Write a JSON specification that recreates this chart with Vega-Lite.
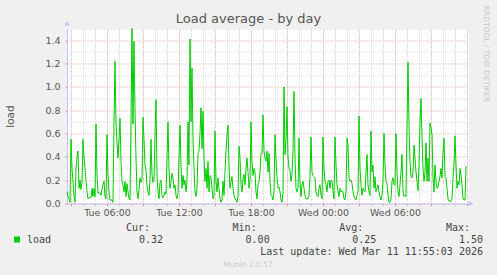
{
"$schema": "https://vega.github.io/schema/vega-lite/v6.json",
"width": 402, "height": 175,
"autosize": {"type": "none"},
"padding": {"left": 67, "top": 28.5, "right": 28, "bottom": 71.5},
"background": "#f0f0f0",
"view": {"fill": "#ffffff", "stroke": null},
"config": {"font": "DejaVu Sans"},
"title": {"text": "Load average - by day", "font": "DejaVu Sans", "fontSize": 13, "fontWeight": "normal", "color": "#555555", "anchor": "middle", "dx": -19.5, "dy": 24.5, "offset": 4},
"datasets": {
"stats": [
{"c": "Cur", "r": "h", "s": "Cur:"}, {"c": "Min", "r": "h", "s": "Min:"}, {"c": "Avg", "r": "h", "s": "Avg:"}, {"c": "Max", "r": "h", "s": "Max:"},
{"c": "Cur", "r": "v", "s": "0.32"}, {"c": "Min", "r": "v", "s": "0.00"}, {"c": "Avg", "r": "v", "s": "0.25"}, {"c": "Max", "r": "v", "s": "1.50"},
{"c": "Max", "r": "u", "s": "Last update: Wed Mar 11 11:55:03 2026"}
],
"load": [
{"t":"2026-03-10T02:40Z","v":0.10},{"t":"2026-03-10T02:45Z","v":0.06},{"t":"2026-03-10T02:50Z","v":0.04},{"t":"2026-03-10T02:55Z","v":0.01},
{"t":"2026-03-10T03:00Z","v":0.55},{"t":"2026-03-10T03:05Z","v":0.30},{"t":"2026-03-10T03:10Z","v":0.19},{"t":"2026-03-10T03:15Z","v":0.06},{"t":"2026-03-10T03:20Z","v":0.01},{"t":"2026-03-10T03:25Z","v":0.30},{"t":"2026-03-10T03:30Z","v":0.40},{"t":"2026-03-10T03:35Z","v":0.45},{"t":"2026-03-10T03:40Z","v":0.13},{"t":"2026-03-10T03:45Z","v":0.20},{"t":"2026-03-10T03:50Z","v":0.12},{"t":"2026-03-10T03:55Z","v":0.18},
{"t":"2026-03-10T04:00Z","v":0.55},{"t":"2026-03-10T04:05Z","v":0.40},{"t":"2026-03-10T04:10Z","v":0.30},{"t":"2026-03-10T04:15Z","v":0.20},{"t":"2026-03-10T04:20Z","v":0.10},{"t":"2026-03-10T04:25Z","v":0.04},{"t":"2026-03-10T04:30Z","v":0.05},{"t":"2026-03-10T04:35Z","v":0.05},{"t":"2026-03-10T04:40Z","v":0.05},{"t":"2026-03-10T04:45Z","v":0.13},{"t":"2026-03-10T04:50Z","v":0.06},{"t":"2026-03-10T04:55Z","v":0.13},
{"t":"2026-03-10T05:00Z","v":0.06},{"t":"2026-03-10T05:05Z","v":0.68},{"t":"2026-03-10T05:10Z","v":0.25},{"t":"2026-03-10T05:15Z","v":0.09},{"t":"2026-03-10T05:20Z","v":0.09},{"t":"2026-03-10T05:25Z","v":0.09},{"t":"2026-03-10T05:30Z","v":0.07},{"t":"2026-03-10T05:35Z","v":0.13},{"t":"2026-03-10T05:40Z","v":0.16},{"t":"2026-03-10T05:45Z","v":0.19},{"t":"2026-03-10T05:50Z","v":0.06},{"t":"2026-03-10T05:55Z","v":0.04},
{"t":"2026-03-10T06:00Z","v":0.59},{"t":"2026-03-10T06:05Z","v":0.25},{"t":"2026-03-10T06:10Z","v":0.10},{"t":"2026-03-10T06:15Z","v":0.03},{"t":"2026-03-10T06:20Z","v":0.03},{"t":"2026-03-10T06:25Z","v":0.03},{"t":"2026-03-10T06:30Z","v":0.01},{"t":"2026-03-10T06:35Z","v":0.70},{"t":"2026-03-10T06:40Z","v":1.22},{"t":"2026-03-10T06:45Z","v":0.70},{"t":"2026-03-10T06:50Z","v":0.52},{"t":"2026-03-10T06:55Z","v":0.39},
{"t":"2026-03-10T07:00Z","v":0.55},{"t":"2026-03-10T07:05Z","v":0.73},{"t":"2026-03-10T07:10Z","v":0.36},{"t":"2026-03-10T07:15Z","v":0.19},{"t":"2026-03-10T07:20Z","v":0.16},{"t":"2026-03-10T07:25Z","v":0.10},{"t":"2026-03-10T07:30Z","v":0.19},{"t":"2026-03-10T07:35Z","v":0.06},{"t":"2026-03-10T07:40Z","v":0.17},{"t":"2026-03-10T07:45Z","v":0.10},{"t":"2026-03-10T07:50Z","v":0.04},{"t":"2026-03-10T07:55Z","v":0.03},
{"t":"2026-03-10T08:00Z","v":0.70},{"t":"2026-03-10T08:05Z","v":1.50},{"t":"2026-03-10T08:10Z","v":0.68},{"t":"2026-03-10T08:15Z","v":1.39},{"t":"2026-03-10T08:20Z","v":0.80},{"t":"2026-03-10T08:25Z","v":0.38},{"t":"2026-03-10T08:30Z","v":0.10},{"t":"2026-03-10T08:35Z","v":0.04},{"t":"2026-03-10T08:40Z","v":0.12},{"t":"2026-03-10T08:45Z","v":0.22},{"t":"2026-03-10T08:50Z","v":0.18},{"t":"2026-03-10T08:55Z","v":0.20},
{"t":"2026-03-10T09:00Z","v":0.74},{"t":"2026-03-10T09:05Z","v":0.55},{"t":"2026-03-10T09:10Z","v":0.33},{"t":"2026-03-10T09:15Z","v":0.28},{"t":"2026-03-10T09:20Z","v":0.15},{"t":"2026-03-10T09:25Z","v":0.10},{"t":"2026-03-10T09:30Z","v":0.07},{"t":"2026-03-10T09:35Z","v":0.20},{"t":"2026-03-10T09:40Z","v":0.55},{"t":"2026-03-10T09:45Z","v":0.25},{"t":"2026-03-10T09:50Z","v":0.18},{"t":"2026-03-10T09:55Z","v":0.20},
{"t":"2026-03-10T10:00Z","v":0.60},{"t":"2026-03-10T10:05Z","v":0.89},{"t":"2026-03-10T10:10Z","v":0.25},{"t":"2026-03-10T10:15Z","v":0.10},{"t":"2026-03-10T10:20Z","v":0.04},{"t":"2026-03-10T10:25Z","v":0.18},{"t":"2026-03-10T10:30Z","v":0.20},{"t":"2026-03-10T10:35Z","v":0.07},{"t":"2026-03-10T10:40Z","v":0.05},{"t":"2026-03-10T10:45Z","v":0.07},{"t":"2026-03-10T10:50Z","v":0.10},{"t":"2026-03-10T10:55Z","v":0.08},
{"t":"2026-03-10T11:00Z","v":0.40},{"t":"2026-03-10T11:05Z","v":0.70},{"t":"2026-03-10T11:10Z","v":0.30},{"t":"2026-03-10T11:15Z","v":0.13},{"t":"2026-03-10T11:20Z","v":0.19},{"t":"2026-03-10T11:25Z","v":0.26},{"t":"2026-03-10T11:30Z","v":0.22},{"t":"2026-03-10T11:35Z","v":0.13},{"t":"2026-03-10T11:40Z","v":0.16},{"t":"2026-03-10T11:45Z","v":0.07},{"t":"2026-03-10T11:50Z","v":0.04},{"t":"2026-03-10T11:55Z","v":0.09},
{"t":"2026-03-10T12:00Z","v":0.40},{"t":"2026-03-10T12:05Z","v":0.67},{"t":"2026-03-10T12:10Z","v":0.33},{"t":"2026-03-10T12:15Z","v":0.13},{"t":"2026-03-10T12:20Z","v":0.24},{"t":"2026-03-10T12:25Z","v":0.16},{"t":"2026-03-10T12:30Z","v":0.20},{"t":"2026-03-10T12:35Z","v":0.10},{"t":"2026-03-10T12:40Z","v":0.19},{"t":"2026-03-10T12:45Z","v":0.70},{"t":"2026-03-10T12:50Z","v":0.33},{"t":"2026-03-10T12:55Z","v":1.41},
{"t":"2026-03-10T13:00Z","v":0.70},{"t":"2026-03-10T13:05Z","v":1.16},{"t":"2026-03-10T13:10Z","v":0.55},{"t":"2026-03-10T13:15Z","v":0.30},{"t":"2026-03-10T13:20Z","v":0.10},{"t":"2026-03-10T13:25Z","v":0.06},{"t":"2026-03-10T13:30Z","v":0.13},{"t":"2026-03-10T13:35Z","v":0.43},{"t":"2026-03-10T13:40Z","v":0.45},{"t":"2026-03-10T13:45Z","v":0.60},{"t":"2026-03-10T13:50Z","v":0.82},{"t":"2026-03-10T13:55Z","v":0.47},
{"t":"2026-03-10T14:00Z","v":0.79},{"t":"2026-03-10T14:05Z","v":0.39},{"t":"2026-03-10T14:10Z","v":0.19},{"t":"2026-03-10T14:15Z","v":0.30},{"t":"2026-03-10T14:20Z","v":0.13},{"t":"2026-03-10T14:25Z","v":0.36},{"t":"2026-03-10T14:30Z","v":0.10},{"t":"2026-03-10T14:35Z","v":0.24},{"t":"2026-03-10T14:40Z","v":0.22},{"t":"2026-03-10T14:45Z","v":0.13},{"t":"2026-03-10T14:50Z","v":0.04},{"t":"2026-03-10T14:55Z","v":0.07},
{"t":"2026-03-10T15:00Z","v":0.62},{"t":"2026-03-10T15:05Z","v":0.19},{"t":"2026-03-10T15:10Z","v":0.10},{"t":"2026-03-10T15:15Z","v":0.22},{"t":"2026-03-10T15:20Z","v":0.13},{"t":"2026-03-10T15:25Z","v":0.04},{"t":"2026-03-10T15:30Z","v":0.01},{"t":"2026-03-10T15:35Z","v":0.03},{"t":"2026-03-10T15:40Z","v":0.19},{"t":"2026-03-10T15:45Z","v":0.07},{"t":"2026-03-10T15:50Z","v":0.27},{"t":"2026-03-10T15:55Z","v":0.45},
{"t":"2026-03-10T16:00Z","v":0.59},{"t":"2026-03-10T16:05Z","v":0.67},{"t":"2026-03-10T16:10Z","v":0.33},{"t":"2026-03-10T16:15Z","v":0.13},{"t":"2026-03-10T16:20Z","v":0.19},{"t":"2026-03-10T16:25Z","v":0.23},{"t":"2026-03-10T16:30Z","v":0.13},{"t":"2026-03-10T16:35Z","v":0.07},{"t":"2026-03-10T16:40Z","v":0.04},{"t":"2026-03-10T16:45Z","v":0.03},{"t":"2026-03-10T16:50Z","v":0.01},{"t":"2026-03-10T16:55Z","v":0.06},
{"t":"2026-03-10T17:00Z","v":0.49},{"t":"2026-03-10T17:05Z","v":0.39},{"t":"2026-03-10T17:10Z","v":0.16},{"t":"2026-03-10T17:15Z","v":0.10},{"t":"2026-03-10T17:20Z","v":0.22},{"t":"2026-03-10T17:25Z","v":0.25},{"t":"2026-03-10T17:30Z","v":0.16},{"t":"2026-03-10T17:35Z","v":0.30},{"t":"2026-03-10T17:40Z","v":0.39},{"t":"2026-03-10T17:45Z","v":0.27},{"t":"2026-03-10T17:50Z","v":0.13},{"t":"2026-03-10T17:55Z","v":0.19},
{"t":"2026-03-10T18:00Z","v":0.70},{"t":"2026-03-10T18:05Z","v":0.36},{"t":"2026-03-10T18:10Z","v":0.24},{"t":"2026-03-10T18:15Z","v":0.30},{"t":"2026-03-10T18:20Z","v":0.27},{"t":"2026-03-10T18:25Z","v":0.10},{"t":"2026-03-10T18:30Z","v":0.04},{"t":"2026-03-10T18:35Z","v":0.16},{"t":"2026-03-10T18:40Z","v":0.19},{"t":"2026-03-10T18:45Z","v":0.27},{"t":"2026-03-10T18:50Z","v":0.43},{"t":"2026-03-10T18:55Z","v":0.43},
{"t":"2026-03-10T19:00Z","v":0.76},{"t":"2026-03-10T19:05Z","v":0.45},{"t":"2026-03-10T19:10Z","v":0.39},{"t":"2026-03-10T19:15Z","v":0.36},{"t":"2026-03-10T19:20Z","v":0.45},{"t":"2026-03-10T19:25Z","v":0.27},{"t":"2026-03-10T19:30Z","v":0.43},{"t":"2026-03-10T19:35Z","v":0.19},{"t":"2026-03-10T19:40Z","v":0.07},{"t":"2026-03-10T19:45Z","v":0.06},{"t":"2026-03-10T19:50Z","v":0.03},{"t":"2026-03-10T19:55Z","v":0.10},
{"t":"2026-03-10T20:00Z","v":0.59},{"t":"2026-03-10T20:05Z","v":0.39},{"t":"2026-03-10T20:10Z","v":0.22},{"t":"2026-03-10T20:15Z","v":0.13},{"t":"2026-03-10T20:20Z","v":0.14},{"t":"2026-03-10T20:25Z","v":0.10},{"t":"2026-03-10T20:30Z","v":0.03},{"t":"2026-03-10T20:35Z","v":0.01},{"t":"2026-03-10T20:40Z","v":0.10},{"t":"2026-03-10T20:45Z","v":1.00},{"t":"2026-03-10T20:50Z","v":0.42},{"t":"2026-03-10T20:55Z","v":0.55},
{"t":"2026-03-10T21:00Z","v":0.83},{"t":"2026-03-10T21:05Z","v":0.40},{"t":"2026-03-10T21:10Z","v":0.30},{"t":"2026-03-10T21:15Z","v":0.28},{"t":"2026-03-10T21:20Z","v":0.19},{"t":"2026-03-10T21:25Z","v":0.25},{"t":"2026-03-10T21:30Z","v":0.45},{"t":"2026-03-10T21:35Z","v":0.96},{"t":"2026-03-10T21:40Z","v":0.39},{"t":"2026-03-10T21:45Z","v":0.13},{"t":"2026-03-10T21:50Z","v":0.10},{"t":"2026-03-10T21:55Z","v":0.13},
{"t":"2026-03-10T22:00Z","v":0.56},{"t":"2026-03-10T22:05Z","v":0.19},{"t":"2026-03-10T22:10Z","v":0.06},{"t":"2026-03-10T22:15Z","v":0.16},{"t":"2026-03-10T22:20Z","v":0.19},{"t":"2026-03-10T22:25Z","v":0.13},{"t":"2026-03-10T22:30Z","v":0.07},{"t":"2026-03-10T22:35Z","v":0.04},{"t":"2026-03-10T22:40Z","v":0.04},{"t":"2026-03-10T22:45Z","v":0.04},{"t":"2026-03-10T22:50Z","v":0.07},{"t":"2026-03-10T22:55Z","v":0.24},
{"t":"2026-03-10T23:00Z","v":0.57},{"t":"2026-03-10T23:05Z","v":0.27},{"t":"2026-03-10T23:10Z","v":0.24},{"t":"2026-03-10T23:15Z","v":0.23},{"t":"2026-03-10T23:20Z","v":0.22},{"t":"2026-03-10T23:25Z","v":0.10},{"t":"2026-03-10T23:30Z","v":0.07},{"t":"2026-03-10T23:35Z","v":0.06},{"t":"2026-03-10T23:40Z","v":0.13},{"t":"2026-03-10T23:45Z","v":0.16},{"t":"2026-03-10T23:50Z","v":0.07},{"t":"2026-03-10T23:55Z","v":0.04},
{"t":"2026-03-11T00:00Z","v":0.57},{"t":"2026-03-11T00:05Z","v":0.30},{"t":"2026-03-11T00:10Z","v":0.19},{"t":"2026-03-11T00:15Z","v":0.16},{"t":"2026-03-11T00:20Z","v":0.10},{"t":"2026-03-11T00:25Z","v":0.19},{"t":"2026-03-11T00:30Z","v":0.20},{"t":"2026-03-11T00:35Z","v":0.13},{"t":"2026-03-11T00:40Z","v":0.20},{"t":"2026-03-11T00:45Z","v":0.19},{"t":"2026-03-11T00:50Z","v":0.10},{"t":"2026-03-11T00:55Z","v":0.04},
{"t":"2026-03-11T01:00Z","v":0.57},{"t":"2026-03-11T01:05Z","v":0.33},{"t":"2026-03-11T01:10Z","v":0.16},{"t":"2026-03-11T01:15Z","v":0.10},{"t":"2026-03-11T01:20Z","v":0.06},{"t":"2026-03-11T01:25Z","v":0.13},{"t":"2026-03-11T01:30Z","v":0.10},{"t":"2026-03-11T01:35Z","v":0.11},{"t":"2026-03-11T01:40Z","v":0.10},{"t":"2026-03-11T01:45Z","v":0.04},{"t":"2026-03-11T01:50Z","v":0.03},{"t":"2026-03-11T01:55Z","v":0.10},
{"t":"2026-03-11T02:00Z","v":0.56},{"t":"2026-03-11T02:05Z","v":0.50},{"t":"2026-03-11T02:10Z","v":0.22},{"t":"2026-03-11T02:15Z","v":0.19},{"t":"2026-03-11T02:20Z","v":0.20},{"t":"2026-03-11T02:25Z","v":0.17},{"t":"2026-03-11T02:30Z","v":0.10},{"t":"2026-03-11T02:35Z","v":0.06},{"t":"2026-03-11T02:40Z","v":0.04},{"t":"2026-03-11T02:45Z","v":0.03},{"t":"2026-03-11T02:50Z","v":0.07},{"t":"2026-03-11T02:55Z","v":0.10},
{"t":"2026-03-11T03:00Z","v":0.75},{"t":"2026-03-11T03:05Z","v":0.30},{"t":"2026-03-11T03:10Z","v":0.16},{"t":"2026-03-11T03:15Z","v":0.07},{"t":"2026-03-11T03:20Z","v":0.13},{"t":"2026-03-11T03:25Z","v":0.11},{"t":"2026-03-11T03:30Z","v":0.10},{"t":"2026-03-11T03:35Z","v":0.27},{"t":"2026-03-11T03:40Z","v":0.42},{"t":"2026-03-11T03:45Z","v":0.16},{"t":"2026-03-11T03:50Z","v":0.10},{"t":"2026-03-11T03:55Z","v":0.07},
{"t":"2026-03-11T04:00Z","v":0.62},{"t":"2026-03-11T04:05Z","v":0.27},{"t":"2026-03-11T04:10Z","v":0.33},{"t":"2026-03-11T04:15Z","v":0.13},{"t":"2026-03-11T04:20Z","v":0.23},{"t":"2026-03-11T04:25Z","v":0.10},{"t":"2026-03-11T04:30Z","v":0.13},{"t":"2026-03-11T04:35Z","v":0.16},{"t":"2026-03-11T04:40Z","v":0.10},{"t":"2026-03-11T04:45Z","v":0.06},{"t":"2026-03-11T04:50Z","v":0.03},{"t":"2026-03-11T04:55Z","v":0.07},
{"t":"2026-03-11T05:00Z","v":0.19},{"t":"2026-03-11T05:05Z","v":0.60},{"t":"2026-03-11T05:10Z","v":0.33},{"t":"2026-03-11T05:15Z","v":0.19},{"t":"2026-03-11T05:20Z","v":0.17},{"t":"2026-03-11T05:25Z","v":0.07},{"t":"2026-03-11T05:30Z","v":0.01},{"t":"2026-03-11T05:35Z","v":0.01},{"t":"2026-03-11T05:40Z","v":0.04},{"t":"2026-03-11T05:45Z","v":0.19},{"t":"2026-03-11T05:50Z","v":0.22},{"t":"2026-03-11T05:55Z","v":0.16},
{"t":"2026-03-11T06:00Z","v":0.16},{"t":"2026-03-11T06:05Z","v":0.60},{"t":"2026-03-11T06:10Z","v":0.27},{"t":"2026-03-11T06:15Z","v":0.10},{"t":"2026-03-11T06:20Z","v":0.06},{"t":"2026-03-11T06:25Z","v":0.16},{"t":"2026-03-11T06:30Z","v":0.27},{"t":"2026-03-11T06:35Z","v":0.42},{"t":"2026-03-11T06:40Z","v":0.10},{"t":"2026-03-11T06:45Z","v":0.06},{"t":"2026-03-11T06:50Z","v":0.07},{"t":"2026-03-11T06:55Z","v":0.06},
{"t":"2026-03-11T07:00Z","v":0.67},{"t":"2026-03-11T07:05Z","v":1.21},{"t":"2026-03-11T07:10Z","v":0.67},{"t":"2026-03-11T07:15Z","v":0.36},{"t":"2026-03-11T07:20Z","v":0.23},{"t":"2026-03-11T07:25Z","v":0.22},{"t":"2026-03-11T07:30Z","v":0.27},{"t":"2026-03-11T07:35Z","v":0.50},{"t":"2026-03-11T07:40Z","v":0.39},{"t":"2026-03-11T07:45Z","v":0.27},{"t":"2026-03-11T07:50Z","v":0.19},{"t":"2026-03-11T07:55Z","v":0.11},
{"t":"2026-03-11T08:00Z","v":0.33},{"t":"2026-03-11T08:05Z","v":0.70},{"t":"2026-03-11T08:10Z","v":0.90},{"t":"2026-03-11T08:15Z","v":0.56},{"t":"2026-03-11T08:20Z","v":0.30},{"t":"2026-03-11T08:25Z","v":0.19},{"t":"2026-03-11T08:30Z","v":0.27},{"t":"2026-03-11T08:35Z","v":0.52},{"t":"2026-03-11T08:40Z","v":0.19},{"t":"2026-03-11T08:45Z","v":0.39},{"t":"2026-03-11T08:50Z","v":0.19},{"t":"2026-03-11T08:55Z","v":0.69},
{"t":"2026-03-11T09:00Z","v":0.65},{"t":"2026-03-11T09:05Z","v":0.59},{"t":"2026-03-11T09:10Z","v":0.22},{"t":"2026-03-11T09:15Z","v":0.10},{"t":"2026-03-11T09:20Z","v":0.33},{"t":"2026-03-11T09:25Z","v":0.19},{"t":"2026-03-11T09:30Z","v":0.13},{"t":"2026-03-11T09:35Z","v":0.14},{"t":"2026-03-11T09:40Z","v":0.19},{"t":"2026-03-11T09:45Z","v":0.23},{"t":"2026-03-11T09:50Z","v":0.30},{"t":"2026-03-11T09:55Z","v":0.22},
{"t":"2026-03-11T10:00Z","v":0.44},{"t":"2026-03-11T10:05Z","v":0.56},{"t":"2026-03-11T10:10Z","v":0.23},{"t":"2026-03-11T10:15Z","v":0.22},{"t":"2026-03-11T10:20Z","v":0.13},{"t":"2026-03-11T10:25Z","v":0.04},{"t":"2026-03-11T10:30Z","v":0.02},{"t":"2026-03-11T10:35Z","v":0.02},{"t":"2026-03-11T10:40Z","v":0.02},{"t":"2026-03-11T10:45Z","v":0.04},{"t":"2026-03-11T10:50Z","v":0.22},{"t":"2026-03-11T10:55Z","v":0.33},
{"t":"2026-03-11T11:00Z","v":0.58},{"t":"2026-03-11T11:05Z","v":0.33},{"t":"2026-03-11T11:10Z","v":0.13},{"t":"2026-03-11T11:15Z","v":0.19},{"t":"2026-03-11T11:20Z","v":0.16},{"t":"2026-03-11T11:25Z","v":0.30},{"t":"2026-03-11T11:30Z","v":0.24},{"t":"2026-03-11T11:35Z","v":0.16},{"t":"2026-03-11T11:40Z","v":0.04},{"t":"2026-03-11T11:45Z","v":0.03},{"t":"2026-03-11T11:50Z","v":0.03},{"t":"2026-03-11T11:55Z","v":0.32}
]
},
"layer": [
{
"data": {"name": "load"},
"mark": {"type": "line", "strokeWidth": 1, "interpolate": "linear"},
"encoding": {
"x": {"field": "t", "type": "temporal",
 "scale": {"type": "utc", "domain": [{"year": 2026, "month": 3, "date": 10, "hours": 2, "minutes": 40, "utc": true}, {"year": 2026, "month": 3, "date": 11, "hours": 12, "minutes": 10, "utc": true}]},
 "axis": {"values": [1773111600000, 1773115200000, 1773118800000, 1773122400000, 1773126000000, 1773129600000, 1773133200000, 1773136800000, 1773140400000, 1773144000000, 1773147600000, 1773151200000, 1773154800000, 1773158400000, 1773162000000, 1773165600000, 1773169200000, 1773172800000, 1773176400000, 1773180000000, 1773183600000, 1773187200000, 1773190800000, 1773194400000, 1773198000000, 1773201600000, 1773205200000, 1773208800000, 1773212400000, 1773216000000, 1773219600000, 1773223200000, 1773226800000, 1773230400000],
  "labelExpr": "utchours(datum.value) % 6 === 0 && datum.value < 1773230000000 ? utcFormat(datum.value, '%a %H:%M') : ''",
  "labelOverlap": false, "labelFlush": false, "labelBound": false,
  "labelFont": "DejaVu Sans", "labelFontSize": 9.5, "labelColor": "#555555", "labelPadding": 2,
  "grid": true,
  "gridColor": {"condition": {"test": "utchours(datum.value) % 3 === 0", "value": "#eeb0b0"}, "value": "#d6d6d6"},
  "gridDash": [1, 1], "gridWidth": 1,
  "domainColor": "#c4c4f4", "domainWidth": 1,
  "tickColor": {"condition": {"test": "utchours(datum.value) % 3 === 0", "value": "#f08080"}, "value": "#cccccc"},
  "tickSize": 2,
  "title": "Munin 2.0.57", "titleFont": "DejaVu Sans", "titleFontSize": 7.5, "titleFontWeight": "normal", "titleColor": "#cccccc",
  "titleX": 180.5, "titleY": 60.5, "titleBaseline": "middle", "titleAlign": "center"}},
"y": {"field": "v", "type": "quantitative",
 "scale": {"domain": [0, 1.5], "nice": false, "zero": true},
 "axis": {"values": [0, 0.1, 0.2, 0.3, 0.4, 0.5, 0.6, 0.7, 0.8, 0.9, 1.0, 1.1, 1.2, 1.3, 1.4, 1.5],
  "labelExpr": "round(datum.value*10) % 2 === 0 ? format(datum.value, '.1f') : ''",
  "labelFont": "DejaVu Sans", "labelFontSize": 9.5, "labelColor": "#555555", "labelPadding": 5,
  "grid": true,
  "gridColor": {"condition": {"test": "round(datum.value*10) % 2 === 0", "value": "#eeb0b0"}, "value": "#d6d6d6"},
  "gridDash": [1, 1],
  "domainColor": "#c4c4f4",
  "tickSize": 2,
  "tickColor": {"condition": {"test": "round(datum.value*10) % 2 === 0", "value": "#f08080"}, "value": "transparent"},
  "title": "load", "titleFont": "DejaVu Sans", "titleFontSize": 10.5, "titleFontWeight": "normal", "titleColor": "#555555",
  "titleX": -57, "titleY": 87.5, "titleAngle": -90, "titleBaseline": "middle", "titleAlign": "center"}},
"color": {"datum": "load", "type": "nominal", "scale": {"range": ["#00cc00"]},
 "legend": {"orient": "none", "legendX": -55, "legendY": 206, "title": null, "padding": 0,
  "symbolType": "square", "symbolSize": 36, "labelFont": "DejaVu Sans Mono", "labelFontSize": 10, "labelColor": "#444444", "labelOffset": 5,
  "symbolFillColor": "#00cc00", "symbolStrokeColor": "#00cc00", "symbolStrokeWidth": 0}}
}
},
{
"data": {"values": [{}]},
"mark": {"type": "point", "shape": "triangle-up", "filled": true, "size": 30, "color": "#c4c4f4", "opacity": 1, "clip": false},
"encoding": {
"x": {"datum": {"year": 2026, "month": 3, "date": 10, "hours": 2, "minutes": 40, "utc": true}, "type": "temporal",
 "scale": {"type": "utc", "domain": [{"year": 2026, "month": 3, "date": 10, "hours": 2, "minutes": 40, "utc": true}, {"year": 2026, "month": 3, "date": 11, "hours": 12, "minutes": 10, "utc": true}]}, "axis": null},
"y": {"datum": 1.545, "type": "quantitative", "scale": {"domain": [0, 1.5], "nice": false}, "axis": null}
}
},
{
"data": {"values": [{}]},
"mark": {"type": "point", "shape": "triangle-right", "filled": true, "size": 30, "color": "#c4c4f4", "opacity": 1, "clip": false},
"encoding": {
"x": {"datum": {"year": 2026, "month": 3, "date": 11, "hours": 12, "minutes": 20, "utc": true}, "type": "temporal",
 "scale": {"type": "utc", "domain": [{"year": 2026, "month": 3, "date": 10, "hours": 2, "minutes": 40, "utc": true}, {"year": 2026, "month": 3, "date": 11, "hours": 12, "minutes": 10, "utc": true}]}, "axis": null},
"y": {"datum": 0, "type": "quantitative", "scale": {"domain": [0, 1.5], "nice": false}, "axis": null}
}
},
{
"data": {"name": "stats"},
"transform": [{"filter": "datum.r === 'h'"}],
"mark": {"type": "text", "align": "right", "baseline": "middle", "dx": -13, "font": "DejaVu Sans Mono", "fontSize": 10, "color": "#444444"},
"encoding": {
"x": {"field": "c", "type": "nominal", "scale": {"type": "point", "domain": ["Cur", "Min", "Avg", "Max"], "range": [96, 416], "padding": 0}, "axis": null},
"y": {"field": "r", "type": "nominal", "scale": {"type": "point", "domain": ["h", "v", "u"], "range": [199, 223], "padding": 0},
 "axis": {"orient": "right", "title": "RRDTOOL / TOBI OETIKER", "domain": false, "ticks": false, "labels": false, "grid": false,
  "titleFont": "DejaVu Sans", "titleFontSize": 7.5, "titleFontWeight": "normal", "titleColor": "#c8c8c8",
  "titleX": 16.7, "titleY": 25, "titleAngle": 90, "titleAlign": "center", "titleBaseline": "middle"}},
"text": {"field": "s"}
}
},
{
"data": {"name": "stats"},
"transform": [{"filter": "datum.r !== 'h'"}],
"mark": {"type": "text", "align": "right", "baseline": "middle", "font": "DejaVu Sans Mono", "fontSize": 10, "color": "#444444"},
"encoding": {
"x": {"field": "c", "type": "nominal", "scale": {"type": "point", "domain": ["Cur", "Min", "Avg", "Max"], "range": [96, 416], "padding": 0}, "axis": null},
"y": {"field": "r", "type": "nominal", "scale": {"type": "point", "domain": ["h", "v", "u"], "range": [199, 223], "padding": 0}, "axis": null},
"text": {"field": "s"}
}
}
],
"resolve": {"scale": {"x": "independent", "y": "independent"}}
}
